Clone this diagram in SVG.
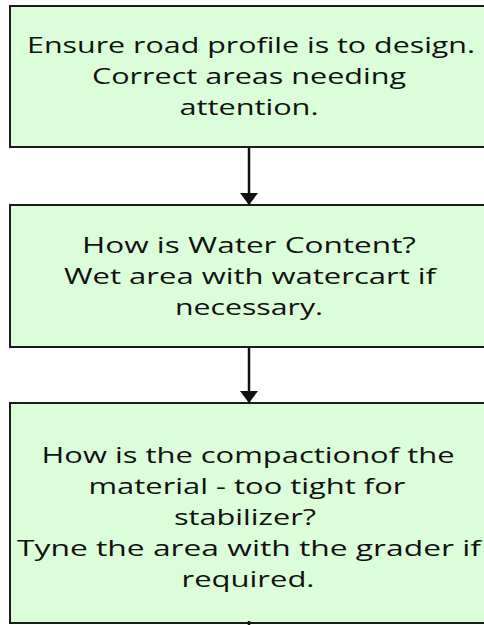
<svg xmlns="http://www.w3.org/2000/svg" width="484" height="625" viewBox="0 0 484 625">
<style>
.box{fill:#dbfdd9;stroke:#1c1c1c;stroke-width:2}
.t{font-family:"Open Sans","Liberation Sans",sans-serif;font-size:22px;fill:#111;text-anchor:middle}
.c{stroke:#111;stroke-width:2.5;fill:none}
</style>
<defs>
<marker id="ah" markerUnits="userSpaceOnUse" markerWidth="12" markerHeight="18" viewBox="0 0 12 18" refX="12" refY="9" orient="auto">
<path d="M0,0 L12,9 L0,18 z" fill="#111"/>
</marker>
</defs>
<rect width="484" height="625" fill="#fff"/>
<g id="node1">
<rect class="box" x="10" y="6" width="480" height="141"/>
<text class="t" x="251" y="53" textLength="448" lengthAdjust="spacingAndGlyphs">Ensure road profile is to design.</text>
<text class="t" x="249" y="84" textLength="314" lengthAdjust="spacingAndGlyphs">Correct areas needing</text>
<text class="t" x="249" y="115" textLength="139" lengthAdjust="spacingAndGlyphs">attention.</text>
</g>
<g id="node2">
<rect class="box" x="10" y="205" width="480" height="142"/>
<text class="t" x="249" y="253" textLength="334" lengthAdjust="spacingAndGlyphs">How is Water Content?</text>
<text class="t" x="250" y="284" textLength="372" lengthAdjust="spacingAndGlyphs">Wet area with watercart if</text>
<text class="t" x="249" y="315" textLength="148" lengthAdjust="spacingAndGlyphs">necessary.</text>
</g>
<g id="node3">
<rect class="box" x="10" y="403" width="480" height="220"/>
<text class="t" x="248" y="463" textLength="413" lengthAdjust="spacingAndGlyphs">How is the compactionof the</text>
<text class="t" x="247" y="494" textLength="317" lengthAdjust="spacingAndGlyphs">material - too tight for</text>
<text class="t" x="245" y="525" textLength="142" lengthAdjust="spacingAndGlyphs">stabilizer?</text>
<text class="t" x="249" y="556" textLength="464" lengthAdjust="spacingAndGlyphs">Tyne the area with the grader if</text>
<text class="t" x="248" y="587" textLength="133" lengthAdjust="spacingAndGlyphs">required.</text>
</g>
<g id="connectors">
<line class="c" x1="249" y1="148" x2="249" y2="205" marker-end="url(#ah)"/>
<line class="c" x1="249" y1="348" x2="249" y2="403" marker-end="url(#ah)"/>
<line class="c" x1="249" y1="621" x2="249" y2="625"/>
</g>
</svg>
